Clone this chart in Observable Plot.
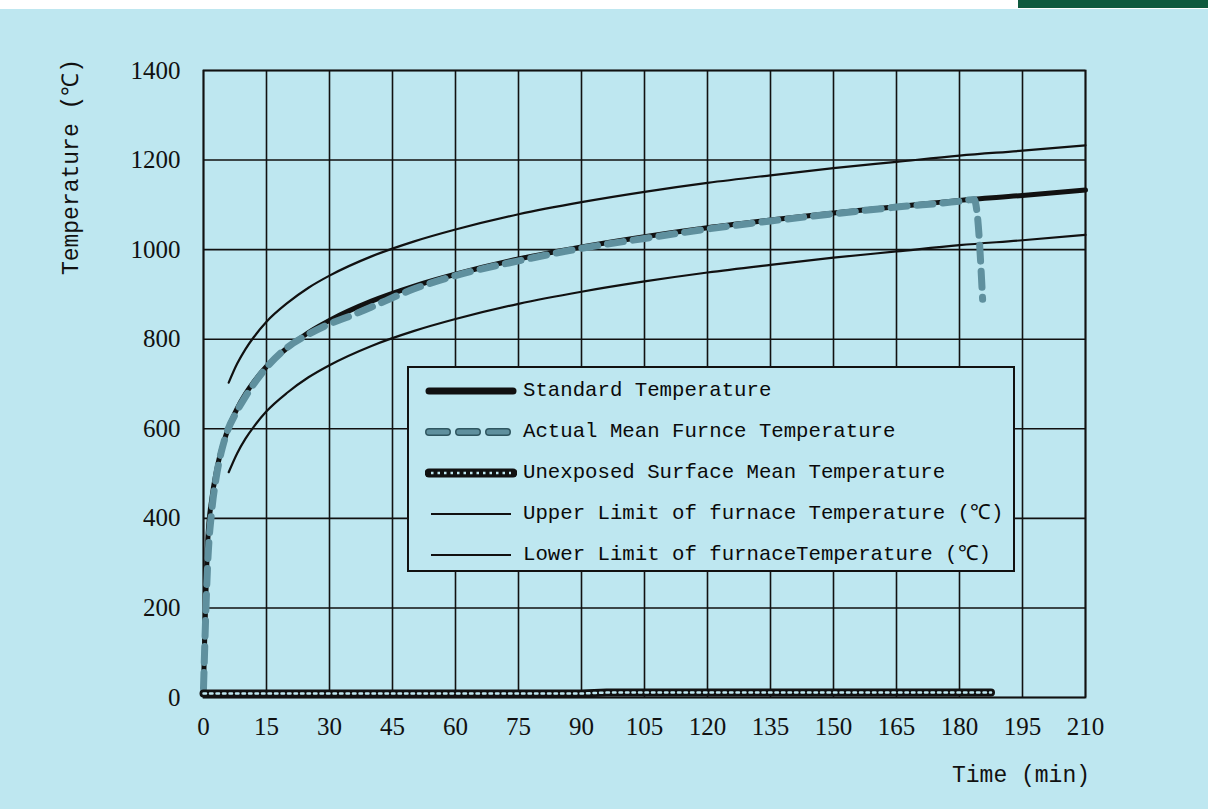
<!DOCTYPE html>
<html>
<head>
<meta charset="utf-8">
<script src="https://cdn.jsdelivr.net/npm/d3@7"></script>
<script src="https://cdn.jsdelivr.net/npm/@observablehq/plot@0.6"></script>
<style>
  html, body { margin: 0; padding: 0; background: #ffffff; }
  #wrap { position: relative; width: 1208px; height: 809px; overflow: hidden; }
  #bg { position: absolute; left: 0; top: 9px; width: 1208px; height: 800px; background: #bee7f0; }
  #bar { position: absolute; left: 1018px; top: 0; width: 190px; height: 8px; background: #0f5a3e; }
  #chart { position: absolute; left: 0; top: 0; }
  .axtitle { position: absolute; font-family: "Liberation Mono", monospace; font-size: 23px; color: #111; white-space: nowrap; line-height: 26px; }
  #ylab { left: 72px; top: 167px; transform: translate(-50%, -50%) rotate(-90deg); }
  #xlab { left: 1021px; top: 776px; transform: translate(-50%, -50%); }
  #legend { position: absolute; left: 407px; top: 366px; width: 608px; height: 206px; box-sizing: border-box;
            border: 2px solid #111; background: #bee7f0; padding-top: 2px; }
  .row { display: flex; align-items: center; height: 41px; margin-left: 16px; overflow: hidden; }
  .row svg { flex: none; margin-right: 6px; }
  .row span { display: block; height: 24px; line-height: 24px; font-family: "Liberation Mono", monospace; font-size: 20.7px; color: #0a0a0a; white-space: nowrap; }
</style>
</head>
<body>
<div id="wrap">
  <div id="bg"></div>
  <div id="bar"></div>
  <div id="chart"></div>
  <div class="axtitle" id="ylab">Temperature (℃)</div>
  <div class="axtitle" id="xlab">Time (min)</div>
  <div id="legend"></div>
</div>
<script>
// ---- data ----
const xTicks = [0, 15, 30, 45, 60, 75, 90, 105, 120, 135, 150, 165, 180, 195, 210];
const yTicks = [0, 200, 400, 600, 800, 1000, 1200, 1400];

const stdTime = [0, 1, 2, 3, 4, 5, 6, 8, 10, 12, 15, 20, 25, 30, 40, 50, 60, 75, 90, 105, 120, 135, 150, 165, 180, 195, 210];
const stdTemp = [20, 349, 445, 502, 544, 576, 603, 645, 678, 705, 739, 781, 815, 842, 885, 918, 945, 979, 1006, 1029, 1049, 1066, 1082, 1096, 1110, 1121, 1133];

const limTime  = [6, 8, 10, 12, 15, 20, 25, 30, 40, 50, 60, 75, 90, 105, 120, 135, 150, 165, 180, 195, 210];
const upperTemp = [703, 745, 778, 805, 839, 881, 915, 942, 985, 1018, 1045, 1079, 1106, 1129, 1149, 1166, 1182, 1196, 1210, 1221, 1233];
const lowerTemp = [503, 545, 578, 605, 639, 681, 715, 742, 785, 818, 845, 879, 906, 929, 949, 966, 982, 996, 1010, 1021, 1033];

const actTime = [0, 1, 2, 3, 5, 8, 10, 15, 20, 25, 30, 35, 40, 50, 60, 75, 90, 105, 120, 135, 150, 165, 180, 183.5, 184.3, 185.5];
const actTemp = [20, 300, 420, 490, 575, 640, 672, 737, 782, 811, 834, 852, 872, 912, 942, 975, 1003, 1025, 1046, 1064, 1080, 1095, 1108, 1112, 1072, 889];

const unxTime = [0, 15, 30, 45, 60, 75, 90, 96, 105, 120, 135, 150, 165, 180, 187.5];
const unxTemp = [9, 9, 9, 9, 9, 9, 9, 11, 11, 11, 11, 11, 11, 11, 11];

const seriesNames = [
  "Standard Temperature",
  "Actual Mean Furnce Temperature",
  "Unexposed Surface Mean Temperature",
  "Upper Limit of furnace Temperature (℃)",
  "Lower Limit of furnaceTemperature (℃)"
];

// ---- tables ----
const toRows = (ts, vs) => ts.map((t, i) => ({t, v: vs[i]}));
const std = toRows(stdTime, stdTemp);
const upper = toRows(limTime, upperTemp);
const lower = toRows(limTime, lowerTemp);
const act = toRows(actTime, actTemp);
const unx = toRows(unxTime, unxTemp);

const INK = "#111";
const TEAL = "#5f909e";
const BG = "#bee7f0";

const chart = Plot.plot({
  width: 1208,
  height: 809,
  marginLeft: 203,
  marginRight: 123,
  marginTop: 70,
  marginBottom: 112,
  style: { background: "transparent", fontFamily: "Liberation Serif, serif", fontSize: "25px", color: INK, overflow: "visible" },
  x: { domain: [0, 210], ticks: xTicks, tickSize: 0, tickPadding: 20, tickFormat: d => String(d), label: null },
  y: { domain: [0, 1400], ticks: yTicks, tickSize: 0, tickPadding: 23, tickFormat: d => String(d), label: null },
  marks: [
    Plot.gridX(xTicks, { stroke: INK, strokeOpacity: 1, strokeWidth: 1.6 }),
    Plot.gridY(yTicks, { stroke: INK, strokeOpacity: 1, strokeWidth: 1.6 }),
    Plot.frame({ stroke: INK, strokeWidth: 1.8 }),
    Plot.line(upper, { x: "t", y: "v", stroke: INK, strokeWidth: 2.2, curve: "monotone-x" }),
    Plot.line(lower, { x: "t", y: "v", stroke: INK, strokeWidth: 2.2, curve: "monotone-x" }),
    Plot.line(std, { x: "t", y: "v", stroke: INK, strokeWidth: 5, curve: "monotone-x" }),
    Plot.line(act, { x: "t", y: "v", stroke: TEAL, strokeWidth: 7, strokeDasharray: "16,10", strokeLinecap: "round", curve: "monotone-x" }),
    Plot.line(unx, { x: "t", y: "v", stroke: INK, strokeWidth: 8, strokeLinecap: "round", curve: "linear" }),
    Plot.line(unx, { x: "t", y: "v", stroke: BG, strokeWidth: 2.5, strokeDasharray: "2.5,4", curve: "linear" })
  ]
});
document.getElementById("chart").appendChild(chart);

// ---- legend ----
const swatches = [
  `<line x1="4" y1="12" x2="88" y2="12" stroke="${INK}" stroke-width="7" stroke-linecap="round"/>`,
  `<line x1="4" y1="12" x2="88" y2="12" stroke="#2f5660" stroke-width="8" stroke-linecap="round" stroke-dasharray="18,12"/>
   <line x1="4" y1="12" x2="88" y2="12" stroke="${TEAL}" stroke-width="5" stroke-linecap="round" stroke-dasharray="18,12"/>`,
  `<line x1="4" y1="12" x2="88" y2="12" stroke="${INK}" stroke-width="9" stroke-linecap="round"/>
   <line x1="6" y1="12" x2="86" y2="12" stroke="${BG}" stroke-width="2.5" stroke-dasharray="2.5,4"/>`,
  `<line x1="6" y1="12" x2="86" y2="12" stroke="${INK}" stroke-width="2.2"/>`,
  `<line x1="6" y1="12" x2="86" y2="12" stroke="${INK}" stroke-width="2.2"/>`
];
const leg = document.getElementById("legend");
seriesNames.forEach((name, i) => {
  const row = document.createElement("div");
  row.className = "row";
  row.innerHTML = `<svg width="92" height="24">${swatches[i]}</svg><span>${name}</span>`;
  leg.appendChild(row);
});
</script>
</body>
</html>
